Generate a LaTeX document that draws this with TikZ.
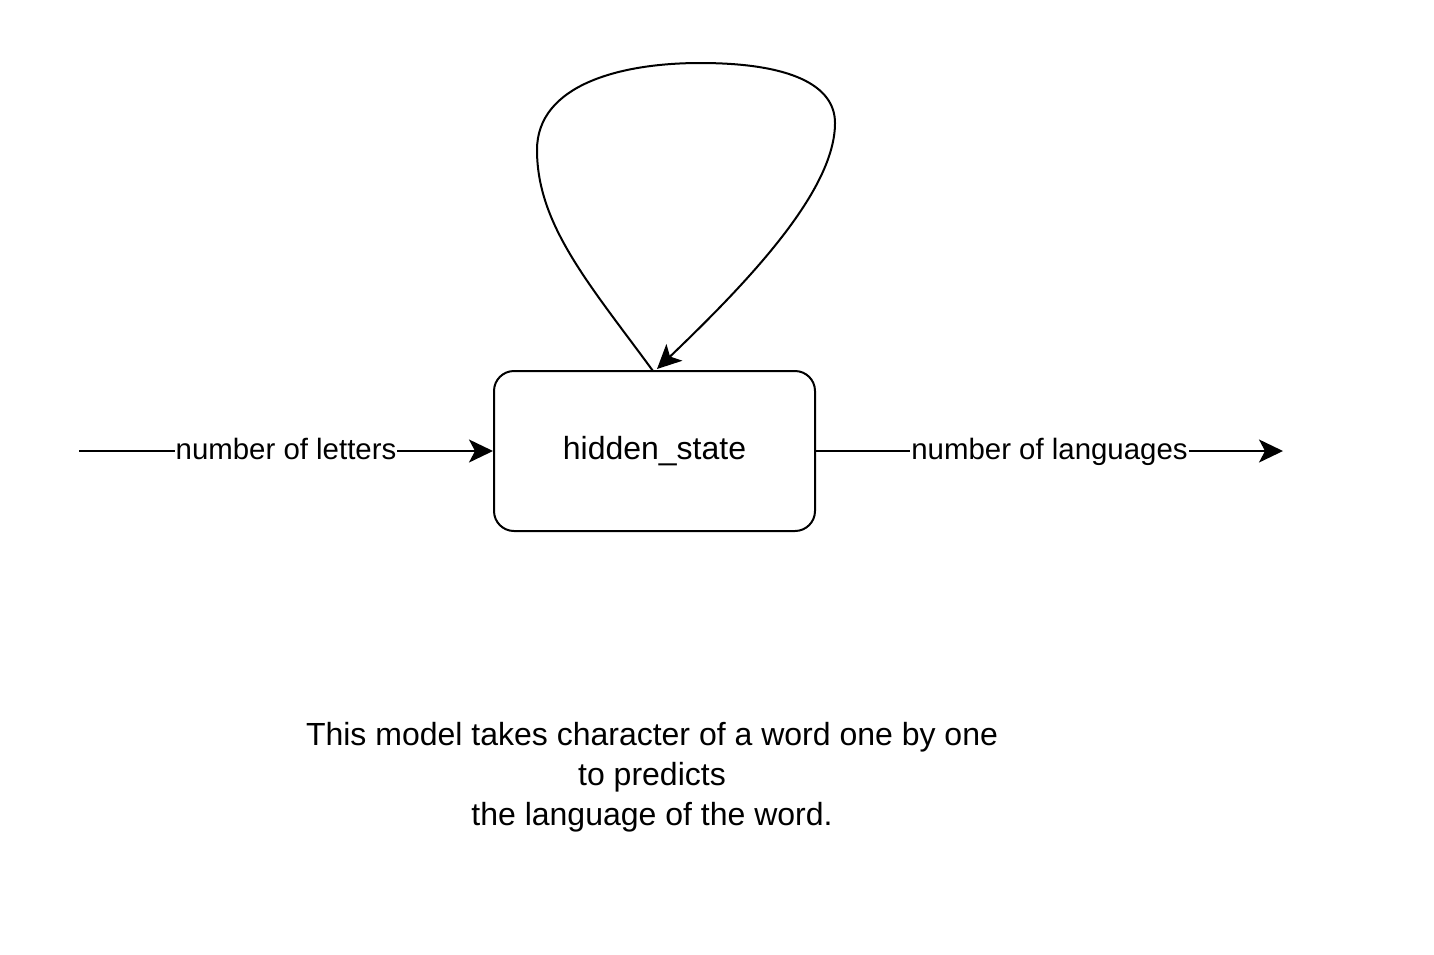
\documentclass[tikz,border=0pt]{standalone}
\usepackage{fontspec}
\setmainfont{Liberation Sans}
\usetikzlibrary{positioning,arrows.meta,calc}

\begin{document}
\begin{tikzpicture}[x=0.5pt,y=-0.5pt,
      state/.style = {draw,line width=1pt,rounded corners=10pt,
         minimum width=160.5pt,minimum height=80pt,
         font=\fontsize{16}{19}\selectfont},
      flow/.style = {line width=1pt,
         -{Stealth[length=12pt,width=11.5pt,inset=3pt]}},
      size/.style = {fill=white,inner sep=0.5pt,text height=1.05em,
         text depth=0.2em,font=\fontsize{14.7}{17}\selectfont},
      note/.style = {align=center,inner sep=0pt,
         font=\fontsize{16}{20}\selectfont}
]
   \useasboundingbox (0,0) rectangle (1434,954);

   \node[state]                       (hidden) at (654.5,451) {hidden\_state};

   % input and output
   \coordinate[left=207pt of hidden.west]    (in);
   \coordinate[right=233.5pt of hidden.east] (out);

   \draw[flow] (in) -- node[size] {number of letters} (hidden.west);
   \draw[flow] (hidden.east) -- node[size] {number of languages} (out);

   % recurrence
   \coordinate (top) at (653,371);
   \draw[flow] (top) .. controls (590,285) and (537,225) .. (537,150)
      .. controls (537,85) and (620,63) .. (700,63)
      .. controls (790,63) and (835,85) .. (835,123)
      .. controls (835,190) and (750,280) .. (657,369);

   \node[note] (caption) at (652,777) {This model takes character of a word one by one\\
      to predicts\\the language of the word.};
\end{tikzpicture}
\end{document}
